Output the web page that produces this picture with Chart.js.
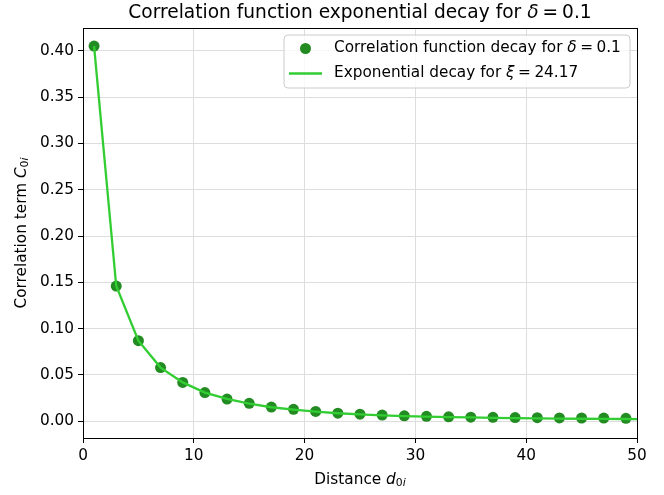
<!DOCTYPE html>
<html>
<head>
<meta charset="utf-8">
<script src="https://cdn.jsdelivr.net/npm/chart.js@4"></script>
<style>
html,body{margin:0;padding:0;background:#fff;}
#wrap{width:664px;height:495px;}
</style>
</head>
<body>
<div id="wrap"><canvas id="c" width="664" height="495"></canvas></div>
<script>
// ---- data ----
const pointX = [1,3,5,7,9,11,13,15,17,19,21,23,25,27,29,31,33,35,37,39,41,43,45,47,49];
const pointY = [0.405,0.146,0.087,0.058,0.042,0.031,0.024,0.0194,0.0154,0.013,0.0107,0.0088,0.0077,0.0068,0.0059,0.0054,0.0048,0.0045,0.0043,0.0041,0.0039,0.0037,0.0036,0.0035,0.0033];
const lineX = [1,3,5,7,9,11,13,15,17,19,21,23,25,27,29,31,33,35,37,39,41,43,45,47,49,50];
const lineY = [0.405,0.146,0.087,0.058,0.042,0.031,0.0242,0.0192,0.0152,0.0126,0.0104,0.0087,0.0075,0.0065,0.0057,0.0051,0.0046,0.0042,0.0038,0.0035,0.0032,0.003,0.0028,0.0026,0.0025,0.0024];
const xTicks = [0,10,20,30,40,50];
const yTicks = [0,0.05,0.10,0.15,0.20,0.25,0.30,0.35,0.40];

const FONT = "'DejaVu Sans', sans-serif";
const TICK_PX = 15.3;
const SUB_PX = 10.8;
const TITLE_PX = 18.6;

function drawRich(ctx, segs, x, y, align) {
  let total = 0;
  const m = segs.map(s => {
    const size = (s.size || TICK_PX);
    const f = (s.italic ? 'italic ' : '') + size + 'px ' + FONT;
    ctx.font = f;
    const w = ctx.measureText(s.t).width + (s.gap || 0);
    total += w;
    return {f, w, s};
  });
  let cx = align === 'center' ? x - total / 2 : (align === 'right' ? x - total : x);
  ctx.textAlign = 'left';
  ctx.textBaseline = 'middle';
  m.forEach(o => {
    ctx.font = o.f;
    ctx.fillText(o.s.t, cx, y + (o.s.dy || 0));
    cx += o.w;
  });
}

const decor = {
  id: 'decor',
  afterDraw(chart) {
    const ctx = chart.ctx;
    const a = chart.chartArea;
    ctx.save();
    ctx.strokeStyle = '#000';
    ctx.lineWidth = 1;
    ctx.strokeRect(Math.round(a.left) + 0.5, Math.round(a.top) + 0.5, Math.round(a.right - a.left), Math.round(a.bottom - a.top));
    ctx.fillStyle = '#000';
    // title
    drawRich(ctx, [
      {t: 'Correlation function exponential decay for ', size: TITLE_PX},
      {t: 'δ', italic: true, size: TITLE_PX, gap: 4},
      {t: '=', size: TITLE_PX, gap: 4},
      {t: '0.1', size: TITLE_PX}
    ], (a.left + a.right) / 2, 13, 'center');
    // x label
    drawRich(ctx, [
      {t: 'Distance '},
      {t: 'd', italic: true},
      {t: '0', size: SUB_PX, dy: 3},
      {t: 'i', italic: true, size: SUB_PX, dy: 3}
    ], (a.left + a.right) / 2, 480, 'center');
    // y label
    ctx.save();
    ctx.translate(22, (a.top + a.bottom) / 2);
    ctx.rotate(-Math.PI / 2);
    drawRich(ctx, [
      {t: 'Correlation term '},
      {t: 'C', italic: true},
      {t: '0', size: SUB_PX, dy: 3},
      {t: 'i', italic: true, size: SUB_PX, dy: 3}
    ], 0, 0, 'center');
    ctx.restore();
    // legend
    const lx = 284, ly = 35, lw = 346, lh = 53, r = 4;
    ctx.beginPath();
    ctx.moveTo(lx + r, ly);
    ctx.arcTo(lx + lw, ly, lx + lw, ly + lh, r);
    ctx.arcTo(lx + lw, ly + lh, lx, ly + lh, r);
    ctx.arcTo(lx, ly + lh, lx, ly, r);
    ctx.arcTo(lx, ly, lx + lw, ly, r);
    ctx.closePath();
    ctx.fillStyle = 'rgba(255,255,255,0.8)';
    ctx.fill();
    ctx.strokeStyle = '#cccccc';
    ctx.lineWidth = 1;
    ctx.stroke();
    ctx.fillStyle = '#228B22';
    ctx.beginPath();
    ctx.arc(305.5, 48.5, 5.5, 0, Math.PI * 2);
    ctx.fill();
    ctx.strokeStyle = '#32CD32';
    ctx.lineWidth = 2.3;
    ctx.beginPath();
    ctx.moveTo(289, 73.5);
    ctx.lineTo(322, 73.5);
    ctx.stroke();
    ctx.fillStyle = '#000';
    drawRich(ctx, [
      {t: 'Correlation function decay for '},
      {t: 'δ', italic: true, gap: 3.5},
      {t: '=', gap: 3.5},
      {t: '0.1'}
    ], 334, 48, 'left');
    drawRich(ctx, [
      {t: 'Exponential decay for '},
      {t: 'ξ', italic: true, gap: 3.5},
      {t: '=', gap: 3.5},
      {t: '24.17'}
    ], 334, 73, 'left');
    ctx.restore();
  }
};

const ctx = document.getElementById('c').getContext('2d');
new Chart(ctx, {
  type: 'scatter',
  data: {
    datasets: [
      {
        label: 'Exponential decay',
        data: lineX.map((x, i) => ({x, y: lineY[i]})),
        showLine: true,
        borderColor: '#32CD32',
        backgroundColor: '#32CD32',
        borderWidth: 2.3,
        pointRadius: 0,
        tension: 0,
        order: 0
      },
      {
        label: 'Correlation function decay',
        data: pointX.map((x, i) => ({x, y: pointY[i]})),
        showLine: false,
        backgroundColor: '#228B22',
        borderColor: '#228B22',
        pointRadius: 5.5,
        pointBorderWidth: 0,
        order: 1
      }
    ]
  },
  options: {
    responsive: false,
    animation: false,
    devicePixelRatio: 1,
    layout: {padding: {left: 0, top: 28, right: 27, bottom: 0}},
    plugins: {legend: {display: false}, tooltip: {enabled: false}, title: {display: false}},
    scales: {
      x: {
        type: 'linear',
        min: 0, max: 50,
        afterBuildTicks: s => { s.ticks = xTicks.map(v => ({value: v})); },
        afterFit: s => { s.height = 57; },
        grid: {color: '#dddddd', lineWidth: 1, tickLength: 5, tickColor: '#000', drawTicks: true},
        border: {display: false},
        ticks: {color: '#000', font: {family: FONT, size: TICK_PX}, padding: 4, maxRotation: 0,
                callback: v => String(v)}
      },
      y: {
        type: 'linear',
        min: -0.018, max: 0.4245,
        afterBuildTicks: s => { s.ticks = yTicks.map(v => ({value: v})); },
        afterFit: s => { s.width = 83; },
        grid: {color: '#dddddd', lineWidth: 1, tickLength: 5, tickColor: '#000', drawTicks: true},
        border: {display: false},
        ticks: {color: '#000', font: {family: FONT, size: TICK_PX}, padding: 4,
                callback: v => Number(v).toFixed(2)}
      }
    }
  },
  plugins: [decor]
});
</script>
</body>
</html>
